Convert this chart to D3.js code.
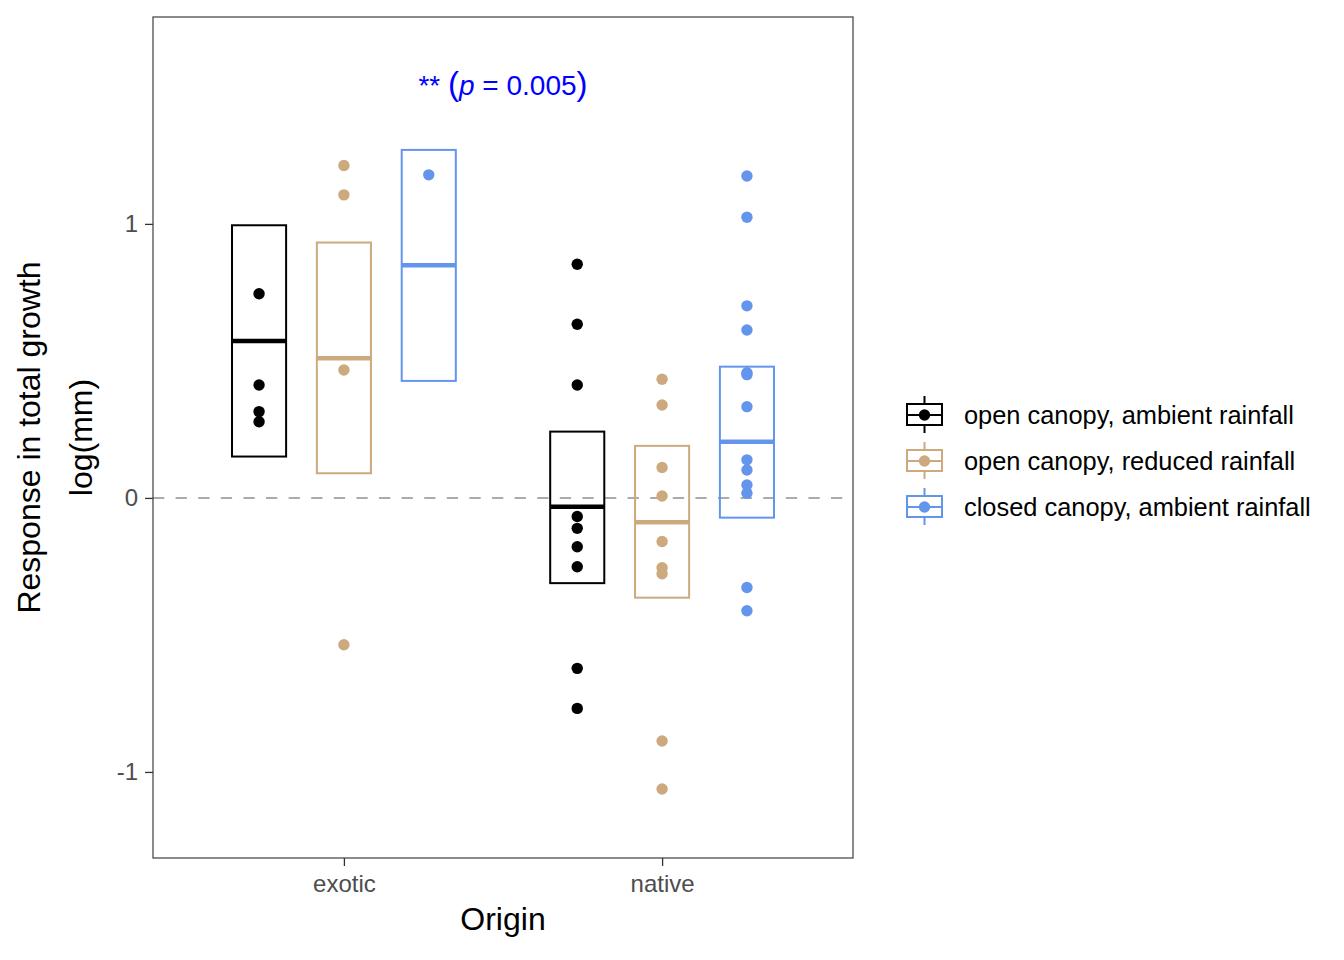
<!DOCTYPE html>
<html><head><meta charset="utf-8">
<script src="https://cdn.jsdelivr.net/npm/d3@7"></script>
<style>body{margin:0;background:#fff;} svg{display:block;font-family:"Liberation Sans",Arial,sans-serif;}</style>
</head><body><svg id="c" width="1344" height="960"></svg>
<script>
const origins = ["exotic", "native"];
const treatments = ["open canopy, ambient rainfall", "open canopy, reduced rainfall", "closed canopy, ambient rainfall"];
const colors = ["#000000", "#CDAA7D", "#6495ED"];
const yTicks = [-1, 0, 1];
const yTickLabels = ["-1", "0", "1"];

// crossbar estimates: [exotic, native] per treatment
const boxMid   = [[0.573, -0.032], [0.510, -0.089], [0.849, 0.205]];
const boxLower = [[0.151, -0.311], [0.090, -0.364], [0.427, -0.072]];
const boxUpper = [[0.995, 0.242], [0.932, 0.190], [1.270, 0.479]];

// raw points per treatment and origin
const ptsAmbientExotic = [0.745, 0.412, 0.315, 0.278];
const ptsReducedExotic = [1.213, 1.106, 0.467, -0.536];
const ptsClosedExotic  = [1.179];
const ptsAmbientNative = [0.853, 0.634, 0.412, -0.068, -0.111, -0.178, -0.251, -0.622, -0.768];
const ptsReducedNative = [0.433, 0.339, 0.111, 0.007, -0.159, -0.255, -0.277, -0.887, -1.062];
const ptsClosedNative  = [1.175, 1.024, 0.701, 0.613, 0.457, 0.450, 0.333, 0.139, 0.102, 0.047, 0.017, -0.327, -0.412];

const points = [
  [ptsAmbientExotic, ptsAmbientNative],
  [ptsReducedExotic, ptsReducedNative],
  [ptsClosedExotic, ptsClosedNative]
];

const svg = d3.select("#c");
const L = 153, R = 853, T = 17, B = 858;

const x = d3.scaleLinear().domain([0.4, 2.6]).range([L, R]);
const y = d3.scaleLinear().domain([-1.314, 1.755]).range([B, T]);
const dodge = 0.8 / 3;
const bw = 0.17;
const xpos = (oi, ti) => x(oi + 1 + (ti - 1) * dodge);

// dashed zero line
svg.append("line").attr("x1", L).attr("x2", R).attr("y1", y(0)).attr("y2", y(0))
  .attr("stroke", "#ABABAB").attr("stroke-width", 2).attr("stroke-dasharray", "11.3,11.3");

// points
treatments.forEach((t, ti) => {
  origins.forEach((o, oi) => {
    svg.append("g").selectAll("circle").data(points[ti][oi]).join("circle")
      .attr("cx", xpos(oi, ti)).attr("cy", d => y(d)).attr("r", 5.7)
      .attr("fill", colors[ti]);
  });
});

// crossbars
treatments.forEach((t, ti) => {
  origins.forEach((o, oi) => {
    const cx = xpos(oi, ti);
    const hw = (x(bw) - x(0)) / 2;
    svg.append("rect").attr("x", cx - hw).attr("width", 2 * hw)
      .attr("y", y(boxUpper[ti][oi])).attr("height", y(boxLower[ti][oi]) - y(boxUpper[ti][oi]))
      .attr("fill", "none").attr("stroke", colors[ti]).attr("stroke-width", 2);
    svg.append("line").attr("x1", cx - hw).attr("x2", cx + hw)
      .attr("y1", y(boxMid[ti][oi])).attr("y2", y(boxMid[ti][oi]))
      .attr("stroke", colors[ti]).attr("stroke-width", 4.5);
  });
});

// panel border
svg.append("rect").attr("x", L).attr("y", T).attr("width", R - L).attr("height", B - T)
  .attr("fill", "none").attr("stroke", "#4d4d4d").attr("stroke-width", 1.3);

// y axis
const yAxis = svg.append("g").attr("transform", `translate(${L},0)`)
  .call(d3.axisLeft(y).tickValues(yTicks).tickSize(8).tickFormat((d, i) => yTickLabels[i]));
yAxis.select(".domain").remove();
yAxis.selectAll("line").attr("stroke", "#333").attr("stroke-width", 1.3);
yAxis.selectAll("text").attr("fill", "#4d4d4d").attr("font-size", 24)
  .attr("font-family", "Liberation Sans, Arial, sans-serif").attr("x", -15);

// x axis
const xAxis = svg.append("g").attr("transform", `translate(0,${B})`)
  .call(d3.axisBottom(x).tickValues([1, 2]).tickSize(8).tickFormat((d, i) => origins[i]));
xAxis.select(".domain").remove();
xAxis.selectAll("line").attr("stroke", "#333").attr("stroke-width", 1.3);
xAxis.selectAll("text").attr("fill", "#4d4d4d").attr("font-size", 24)
  .attr("font-family", "Liberation Sans, Arial, sans-serif").attr("y", 17);

// axis titles
svg.append("text").attr("x", (L + R) / 2).attr("y", 930).attr("text-anchor", "middle")
  .attr("font-size", 32).attr("fill", "#000").text("Origin");
const yl = svg.append("text").attr("transform", `translate(40,${(T + B) / 2}) rotate(-90)`)
  .attr("text-anchor", "middle").attr("font-size", 32).attr("fill", "#000");
yl.append("tspan").attr("x", 0).attr("y", 0).text("Response in total growth");
yl.append("tspan").attr("x", 0).attr("y", 52).text("log(mm)");

// annotation
const ann = svg.append("text").attr("x", (L + R) / 2).attr("y", 95).attr("text-anchor", "middle")
  .attr("font-size", 28).attr("fill", "#0000FF");
ann.append("tspan").text("** ");
ann.append("tspan").attr("font-size", 33).text("(");
ann.append("tspan").attr("font-style", "italic").text("p");
ann.append("tspan").text(" = 0.005");
ann.append("tspan").attr("font-size", 33).text(")");

// legend
const lg = svg.append("g");
treatments.forEach((t, ti) => {
  const cy = 415 + ti * 46, cx = 924.5;
  const g = lg.append("g");
  g.append("line").attr("x1", cx).attr("x2", cx).attr("y1", cy - 19).attr("y2", cy + 18)
    .attr("stroke", colors[ti]).attr("stroke-width", 2);
  g.append("rect").attr("x", 907).attr("y", cy - 11).attr("width", 35).attr("height", 21)
    .attr("fill", "#fff").attr("stroke", colors[ti]).attr("stroke-width", 2);
  g.append("line").attr("x1", 907).attr("x2", 942).attr("y1", cy).attr("y2", cy)
    .attr("stroke", colors[ti]).attr("stroke-width", 2);
  g.append("circle").attr("cx", cx).attr("cy", cy).attr("r", 5.7).attr("fill", colors[ti]);
  g.append("text").attr("x", 964).attr("y", cy + 8.5).attr("font-size", 25.4).attr("fill", "#000").text(t);
});
</script></body></html>
